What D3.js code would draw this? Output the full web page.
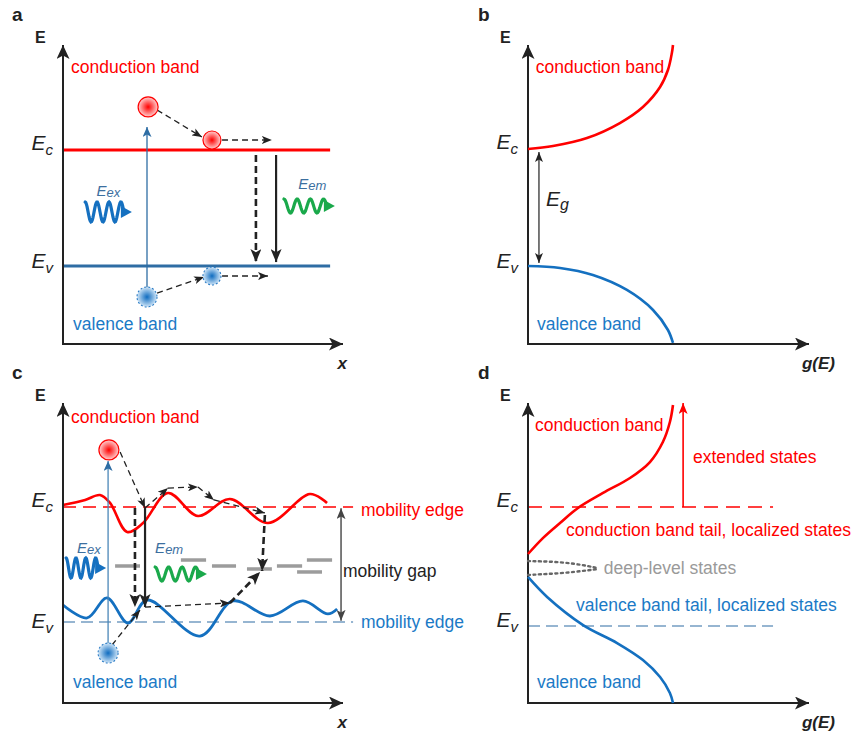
<!DOCTYPE html>
<html lang="en">
<head>
<meta charset="UTF-8">
<title>Band diagrams</title>
<style>
  body { margin: 0; background: #fff; }
  text { font-family: "Liberation Sans", Arial, sans-serif; }
  .lab { font-size: 17.5px; }
  .red { fill: #ff0000; }
  .blue { fill: #1b7ac6; }
  .grey { fill: #9a9a9a; }
  .photon { font-size: 15px; font-style: italic; fill: #3c6f9f; }
  .level { font-size: 21px; font-style: italic; fill: #222; }
  .panel { font-size: 19px; font-weight: bold; fill: #222; }
  .axlab { font-size: 16px; font-weight: bold; fill: #222; }
  .axlab.it { font-style: italic; font-size: 17px; }
</style>
</head>
<body>
<script src="https://d3js.org/d3.v7.min.js"></script>
<script>

    // energies are in units of the gap: Ev = 0, Ec = 1; x and g(E) run 0..1 along the axis
    const bandEdges = [0, 1];
    const bandNames = ['conduction band', 'valence band'];

    // panel a: particles and transitions
    const electronsA = [[0.304, 1.371], [0.532, 1.086]];
    const holesA = [[0.300, -0.267], [0.532, -0.086]];
    const excitationA = [0.300, -0.20, 1.198];
    const hopsA = [
        [0.336, 1.345, 0.496, 1.112],
        [0.568, 1.086, 0.746, 1.086],
        [0.336, -0.233, 0.504, -0.095],
        [0.568, -0.086, 0.732, -0.086]
    ];
    const decayA = [[0.689, 0.957, 0.034], [0.761, 0.957, 0.034]];

    // panel b: density of states [g, E]
    const dosConduction = [[0, 1.0], [0.089, 1.026], [0.210, 1.094], [0.327, 1.222], [0.409, 1.359],
        [0.470, 1.530], [0.498, 1.675], [0.512, 1.821], [0.516, 1.889]];
    const dosValence = [[0, 0], [0.114, -0.017], [0.231, -0.077], [0.352, -0.205], [0.445, -0.376],
        [0.498, -0.547], [0.516, -0.658]];

    // panel c: disordered band edges [x, E]
    const edgeConduction = [[0, 1.017], [0.079, 1.061], [0.132, 1.104], [0.168, 1.035], [0.229, 0.783],
        [0.286, 0.861], [0.375, 1.122], [0.482, 0.922], [0.596, 1.070], [0.732, 0.861], [0.882, 1.113], [0.943, 1.035]];
    const edgeValence = [[0, 0.148], [0.086, 0.035], [0.157, 0.209], [0.232, -0.009], [0.300, 0.191],
        [0.489, -0.122], [0.607, 0.183], [0.739, 0.052], [0.857, 0.183], [0.946, 0.070], [0.979, 0.113]];
    // localized levels in the gap [x start, x end, E]
    const trapLevels = [[0.186, 0.275, 0.487], [0.421, 0.511, 0.539], [0.532, 0.618, 0.487],
        [0.657, 0.746, 0.461], [0.764, 0.854, 0.487], [0.871, 0.961, 0.539], [0.836, 0.925, 0.435]];
    const electronC = [0.164, 1.496];
    const holeC = [0.161, -0.270];
    const excitationC = [0.161, -0.20, 1.40];
    const hopsC = [
        [0.204, 1.478, 0.293, 0.991],
        [0.293, 0.991, 0.375, 1.165],
        [0.375, 1.165, 0.482, 1.174],
        [0.482, 1.174, 0.539, 1.061],
        [0.539, 1.061, 0.721, 0.948],
        [0.293, 0.130, 0.596, 0.165],
        [0.175, -0.200, 0.275, 0.104]
    ];
    const jumpsC = [
        [0.721, 0.930, 0.711, 0.443],
        [0.596, 0.165, 0.704, 0.435],
        [0.257, 0.991, 0.257, 0.130]
    ];
    const decayC = [0.293, 0.991, 0.130];
    const edgeLabels = ['mobility edge', 'mobility gap'];

    // panel d: tailed density of states [g, E]
    const tailConduction = [[0, 0.605], [0.053, 0.739], [0.114, 0.866], [0.178, 0.992], [0.267, 1.118],
        [0.363, 1.244], [0.434, 1.378], [0.480, 1.546], [0.505, 1.714], [0.516, 1.857]];
    const tailValence = [[0, 0.412], [0.068, 0.244], [0.196, 0.008], [0.317, -0.143], [0.409, -0.286],
        [0.470, -0.429], [0.505, -0.563], [0.516, -0.647]];
    const deepUpper = [[0, 0.546], [0.139, 0.538], [0.249, 0.487]];
    const deepLower = [[0, 0.429], [0.139, 0.445], [0.249, 0.479]];
    const extendedTop = 1.874;
    const stateLabels = ['extended states', 'conduction band tail, localized states',
        'deep-level states', 'valence band tail, localized states'];

    const RED = '#ff0000';
    const BLUE = '#1470c0';
    const STEEL = '#2e6da4';
    const GREEN = '#1aa94b';
    const INK = '#222';

    // panel frames (pixels)
    const panels = {
        a: {ox: 63, oy: 344, w: 280, ev: 266, ec: 150, top: 45},
        b: {ox: 528, oy: 344, w: 281, ev: 266, ec: 149, top: 45},
        c: {ox: 63, oy: 703, w: 280, ev: 622, ec: 507, top: 403},
        d: {ox: 528, oy: 703, w: 281, ev: 626, ec: 507, top: 403}
    };

    let svg = d3.select('body').append('svg')
        .attr('width', 856)
        .attr('height', 738);

    let defs = svg.append('defs');

    function marker(id, len, wid, color) {
        defs.append('marker')
            .attr('id', id)
            .attr('viewBox', '0 0 ' + len + ' ' + wid)
            .attr('refX', len).attr('refY', wid / 2)
            .attr('markerWidth', len).attr('markerHeight', wid)
            .attr('markerUnits', 'userSpaceOnUse')
            .attr('orient', 'auto-start-reverse')
            .append('path')
            .attr('d', 'M0,0 L' + len + ',' + (wid / 2) + ' L0,' + wid + ' L' + (len * 0.25) + ',' + (wid / 2) + ' Z')
            .attr('fill', color);
    }
    marker('axisHead', 14, 13, INK);
    marker('smallHead', 10, 8, INK);
    marker('bigHead', 13, 11, INK);
    marker('steelHead', 10, 9, STEEL);
    marker('redHead', 11, 9, RED);
    marker('greyHead', 11, 9, '#444');

    let eg = defs.append('radialGradient').attr('id', 'eGrad');
    eg.append('stop').attr('offset', '0%').attr('stop-color', '#ff0000');
    eg.append('stop').attr('offset', '100%').attr('stop-color', '#ffd2d2');
    let hg = defs.append('radialGradient').attr('id', 'hGrad');
    hg.append('stop').attr('offset', '0%').attr('stop-color', '#0f6cc0');
    hg.append('stop').attr('offset', '100%').attr('stop-color', '#cfe5f7');

    function scales(p) {
        return {
            x: d3.scaleLinear().domain([0, 1]).range([p.ox, p.ox + p.w]),
            y: d3.scaleLinear().domain(bandEdges).range([p.ev, p.ec])
        };
    }

    function frame(g, p, letter, xlab) {
        g.append('line')
            .attr('x1', p.ox).attr('y1', p.oy).attr('x2', p.ox).attr('y2', p.top)
            .attr('stroke', INK).attr('stroke-width', 2).attr('marker-end', 'url(#axisHead)');
        g.append('line')
            .attr('x1', p.ox - 1).attr('y1', p.oy).attr('x2', p.ox + p.w).attr('y2', p.oy)
            .attr('stroke', INK).attr('stroke-width', 2).attr('marker-end', 'url(#axisHead)');
        g.append('text').attr('class', 'panel')
            .attr('x', p.ox - 51 + (p.ox > 300 ? 1 : 0)).attr('y', p.top - 24).text(letter);
        g.append('text').attr('class', 'axlab')
            .attr('x', p.ox - 28).attr('y', p.top - 2).text('E');
        g.append('text').attr('class', 'axlab it')
            .attr('text-anchor', 'end')
            .attr('x', p.ox + p.w + (xlab === 'x' ? 4 : 26)).attr('y', p.oy + 25).text(xlab);
    }

    function levelLabel(g, p, s, sub, E, dy) {
        let t = g.append('text').attr('class', 'level')
            .attr('text-anchor', 'end')
            .attr('x', p.ox - 10).attr('y', s.y(E) + dy);
        t.append('tspan').text('E');
        t.append('tspan').attr('font-size', '15px').attr('dy', 5).text(sub);
    }

    function label(g, s, x, E, txt, cls) {
        g.append('text').attr('class', 'lab ' + cls)
            .attr('x', s.x(x)).attr('y', s.y(E)).text(txt);
    }

    function arrow(g, s, d, head, width, dash, color) {
        g.append('line')
            .attr('x1', s.x(d[0])).attr('y1', s.y(d[1]))
            .attr('x2', s.x(d[2])).attr('y2', s.y(d[3]))
            .attr('stroke', color || INK)
            .attr('stroke-width', width)
            .attr('stroke-dasharray', dash)
            .attr('marker-end', 'url(#' + head + ')');
    }

    function electron(g, s, d, r) {
        g.append('circle')
            .attr('cx', s.x(d[0])).attr('cy', s.y(d[1])).attr('r', r)
            .attr('fill', 'url(#eGrad)').attr('stroke', RED).attr('stroke-width', 1.2);
    }

    function hole(g, s, d, r) {
        g.append('circle')
            .attr('cx', s.x(d[0])).attr('cy', s.y(d[1])).attr('r', r)
            .attr('fill', 'url(#hGrad)').attr('stroke', '#2a7bc5')
            .attr('stroke-width', 1.1).attr('stroke-dasharray', '2,2');
    }

    // photon glyph: a wiggle with an arrowhead
    function photon(g, s, x0, x1, E, amp, color) {
        let px0 = s.x(x0), px1 = s.x(x1) - 8, cy = s.y(E);
        let pts = d3.range(61).map(function (i) {
            let t = i / 60;
            return [px0 + t * (px1 - px0), cy - amp * Math.sin(Math.PI * 0.5 + t * 3.25 * 2 * Math.PI)];
        });
        g.append('path').attr('d', d3.line()(pts))
            .attr('fill', 'none').attr('stroke', color).attr('stroke-width', 3.2)
            .attr('stroke-linecap', 'round');
        g.append('path')
            .attr('d', 'M' + (px1 - 3) + ',' + (cy - 6) + ' L' + (px1 + 8) + ',' + cy + ' L' + (px1 - 3) + ',' + (cy + 6) + ' Z')
            .attr('fill', color);
    }

    function photonLabel(g, s, x, E, sub) {
        let t = g.append('text').attr('class', 'photon').attr('x', s.x(x)).attr('y', s.y(E));
        t.append('tspan').text('E');
        t.append('tspan').attr('font-size', '13px').attr('dy', 1).text(sub);
    }

    function curve(g, s, pts, color, width, kind) {
        return g.append('path')
            .attr('d', d3.line().x(function (d) { return s.x(d[0]); }).y(function (d) { return s.y(d[1]); })
                .curve(kind || d3.curveCatmullRom.alpha(0.5))(pts))
            .attr('fill', 'none').attr('stroke', color).attr('stroke-width', width);
    }

    // ---------------- panel a ----------------
    (function () {
        let p = panels.a, s = scales(p), g = svg.append('g');
        g.append('line').attr('x1', s.x(0)).attr('x2', s.x(0.954))
            .attr('y1', s.y(1)).attr('y2', s.y(1)).attr('stroke', RED).attr('stroke-width', 3);
        g.append('line').attr('x1', s.x(0)).attr('x2', s.x(0.954))
            .attr('y1', s.y(0)).attr('y2', s.y(0)).attr('stroke', STEEL).attr('stroke-width', 3);
        frame(g, p, 'a', 'x');
        levelLabel(g, p, s, 'c', 1, 0);
        levelLabel(g, p, s, 'v', 0, 2);
        label(g, s, 0.029, 1.664, bandNames[0], 'red');
        label(g, s, 0.036, -0.552, bandNames[1], 'blue');

        arrow(g, s, [excitationA[0], excitationA[1], excitationA[0], excitationA[2]], 'steelHead', 1.3, null, STEEL);
        hopsA.forEach(function (d) { arrow(g, s, d, 'smallHead', 1.3, '6,4'); });
        arrow(g, s, [decayA[0][0], decayA[0][1], decayA[0][0], decayA[0][2]], 'bigHead', 2.6, '7,4');
        arrow(g, s, [decayA[1][0], decayA[1][1], decayA[1][0], decayA[1][2]], 'bigHead', 2.2, null);

        electronsA.forEach(function (d, i) { electron(g, s, d, i ? 9 : 10); });
        holesA.forEach(function (d, i) { hole(g, s, d, i ? 9 : 10); });

        photonLabel(g, s, 0.120, 0.603, 'ex');
        photon(g, s, 0.079, 0.246, 0.466, 10, '#1570c0');
        photonLabel(g, s, 0.840, 0.664, 'em');
        photon(g, s, 0.789, 0.971, 0.517, 7, GREEN);
    })();

    // ---------------- panel b ----------------
    (function () {
        let p = panels.b, s = scales(p), g = svg.append('g');
        frame(g, p, 'b', 'g(E)');
        curve(g, s, dosConduction, RED, 2.6);
        curve(g, s, dosValence, BLUE, 2.6);
        levelLabel(g, p, s, 'c', 1, 0);
        levelLabel(g, p, s, 'v', 0, 2);
        label(g, s, 0.028, 1.650, bandNames[0], 'red');
        label(g, s, 0.032, -0.547, bandNames[1], 'blue');
        g.append('line')
            .attr('x1', s.x(0.039)).attr('y1', s.y(0.974)).attr('x2', s.x(0.039)).attr('y2', s.y(0.026))
            .attr('stroke', INK).attr('stroke-width', 1.2)
            .attr('marker-start', 'url(#smallHead)').attr('marker-end', 'url(#smallHead)');
        let t = g.append('text').attr('class', 'level').attr('font-size', '22px')
            .attr('x', s.x(0.064)).attr('y', s.y(0.513));
        t.append('tspan').text('E');
        t.append('tspan').attr('font-size', '16px').attr('dy', 4).text('g');
    })();

    // ---------------- panel c ----------------
    (function () {
        let p = panels.c, s = scales(p), g = svg.append('g');
        g.append('line').attr('x1', s.x(0)).attr('x2', s.x(1.036))
            .attr('y1', s.y(1)).attr('y2', s.y(1))
            .attr('stroke', RED).attr('stroke-width', 1.5).attr('stroke-dasharray', '13,7');
        g.append('line').attr('x1', s.x(0)).attr('x2', s.x(1.036))
            .attr('y1', s.y(0)).attr('y2', s.y(0))
            .attr('stroke', STEEL).attr('stroke-width', 1.2).attr('stroke-dasharray', '12,6');
        curve(g, s, edgeConduction, RED, 2.6);
        curve(g, s, edgeValence, BLUE, 2.8);
        trapLevels.forEach(function (d) {
            g.append('line').attr('x1', s.x(d[0])).attr('x2', s.x(d[1]))
                .attr('y1', s.y(d[2])).attr('y2', s.y(d[2]))
                .attr('stroke', '#9c9c9c').attr('stroke-width', 3.5);
        });
        frame(g, p, 'c', 'x');
        levelLabel(g, p, s, 'c', 1, 0);
        levelLabel(g, p, s, 'v', 0, 6);
        label(g, s, 0.029, 1.730, bandNames[0], 'red');
        label(g, s, 0.036, -0.574, bandNames[1], 'blue');
        label(g, s, 1.064, 0.922, edgeLabels[0], 'red');
        label(g, s, 1.064, -0.052, edgeLabels[0], 'blue');
        g.append('text').attr('class', 'lab').attr('fill', INK)
            .attr('x', s.x(1.0)).attr('y', s.y(0.391)).text(edgeLabels[1]);
        g.append('line')
            .attr('x1', s.x(0.993)).attr('y1', s.y(0.01)).attr('x2', s.x(0.993)).attr('y2', s.y(0.99))
            .attr('stroke', '#444').attr('stroke-width', 1.4)
            .attr('marker-start', 'url(#greyHead)').attr('marker-end', 'url(#greyHead)');

        arrow(g, s, [excitationC[0], excitationC[1], excitationC[0], excitationC[2]], 'steelHead', 1.3, null, '#4a86b8');
        hopsC.forEach(function (d) { arrow(g, s, d, 'smallHead', 1.3, '6,4'); });
        jumpsC.forEach(function (d) { arrow(g, s, d, 'bigHead', 2.6, '7,4'); });
        arrow(g, s, [decayC[0], decayC[1], decayC[0], decayC[2]], 'bigHead', 2.2, null);

        electron(g, s, electronC, 10);
        hole(g, s, holeC, 10);

        photonLabel(g, s, 0.05, 0.6, 'ex');
        photon(g, s, 0.011, 0.154, 0.470, 10, '#1570c0');
        photonLabel(g, s, 0.329, 0.6, 'em');
        photon(g, s, 0.329, 0.514, 0.417, 7, GREEN);
    })();

    // ---------------- panel d ----------------
    (function () {
        let p = panels.d, s = scales(p), g = svg.append('g');
        g.append('line').attr('x1', s.x(0)).attr('x2', s.x(0.872))
            .attr('y1', s.y(1)).attr('y2', s.y(1))
            .attr('stroke', RED).attr('stroke-width', 1.5).attr('stroke-dasharray', '14,8');
        g.append('line').attr('x1', s.x(0)).attr('x2', s.x(0.872))
            .attr('y1', s.y(0)).attr('y2', s.y(0))
            .attr('stroke', STEEL).attr('stroke-width', 1.2).attr('stroke-dasharray', '12,6');
        frame(g, p, 'd', 'g(E)');
        curve(g, s, tailConduction, RED, 2.6);
        curve(g, s, tailValence, BLUE, 2.6);
        [deepUpper, deepLower].forEach(function (pts) {
            curve(g, s, pts, '#666', 2.4, d3.curveBasis)
                .attr('stroke-dasharray', '2,3.5').attr('stroke-linecap', 'round');
        });
        g.append('line')
            .attr('x1', s.x(0.552)).attr('y1', s.y(1)).attr('x2', s.x(0.552)).attr('y2', s.y(extendedTop))
            .attr('stroke', RED).attr('stroke-width', 1.6).attr('marker-end', 'url(#redHead)');
        levelLabel(g, p, s, 'c', 1, 0);
        levelLabel(g, p, s, 'v', 0, 1);
        label(g, s, 0.025, 1.639, bandNames[0], 'red');
        label(g, s, 0.587, 1.370, stateLabels[0], 'red');
        label(g, s, 0.135, 0.756, stateLabels[1], 'red');
        label(g, s, 0.270, 0.437, stateLabels[2], 'grey');
        label(g, s, 0.171, 0.126, stateLabels[3], 'blue');
        label(g, s, 0.032, -0.521, bandNames[1], 'blue');
    })();

</script>
</body>
</html>
